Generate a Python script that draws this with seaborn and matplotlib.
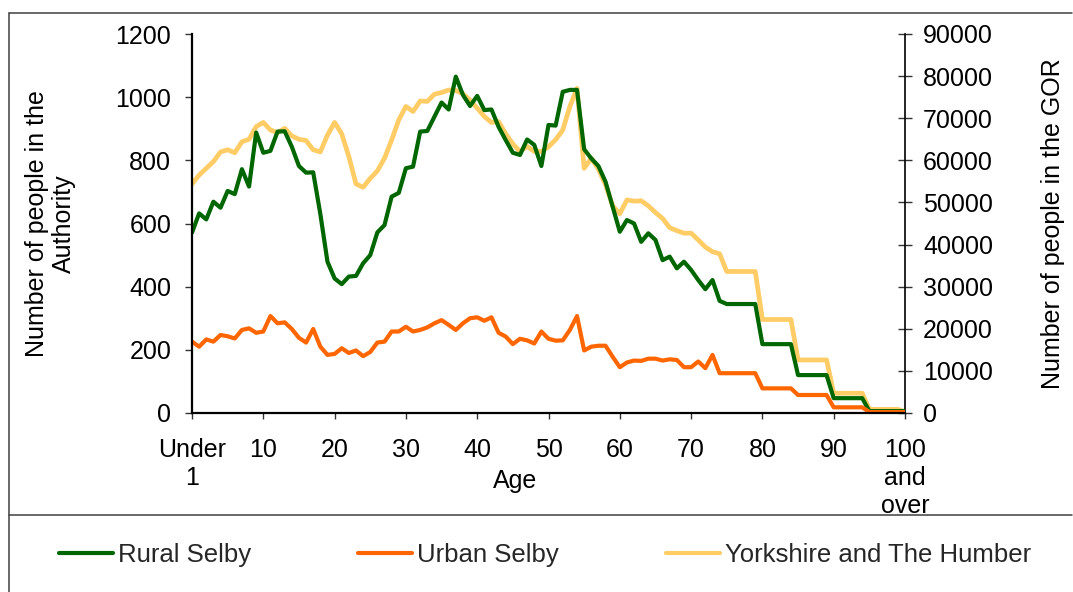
import matplotlib
matplotlib.use("Agg")
import matplotlib.pyplot as plt
from matplotlib.lines import Line2D
import seaborn as sns
import pandas as pd

# ---------------- data ----------------
ages = list(range(0, 101))

rural_selby = [571, 632, 613, 669, 650, 703, 693, 772, 717, 888,
               824, 830, 891, 892, 843, 782, 761, 762, 630, 479,
               426, 408, 432, 434, 474, 500, 572, 595, 685, 697,
               775, 780, 891, 893, 938, 983, 961, 1065, 1007, 972,
               1004, 959, 961, 906, 864, 824, 817, 866, 849, 782,
               912, 910, 1017, 1023, 1023, 835, 806, 782, 732, 653,
               574, 611, 600, 542, 569, 548, 484, 495, 458, 479,
               453, 421, 392, 421, 355, 345, 345, 345, 345, 345,
               218, 218, 218, 218, 218, 120, 120, 120, 120, 120,
               47, 47, 47, 47, 47, 6, 6, 6, 6, 6, 6]

urban_selby = [226, 210, 233, 226, 247, 243, 236, 263, 268, 254,
               258, 307, 284, 287, 266, 238, 223, 266, 210, 184,
               187, 205, 190, 198, 180, 193, 223, 226, 258, 258,
               273, 258, 263, 271, 284, 294, 279, 263, 284, 300,
               303, 292, 303, 254, 242, 218, 235, 230, 220, 258,
               235, 229, 230, 263, 307, 198, 210, 213, 213, 178,
               145, 160, 166, 165, 172, 172, 166, 170, 168, 145,
               145, 163, 142, 184, 126, 126, 126, 126, 126, 126,
               78, 78, 78, 78, 78, 57, 57, 57, 57, 57,
               18, 18, 18, 18, 18, 3, 3, 3, 3, 3, 3]

yorkshire_humber = [54400, 56500, 58100, 59700, 62000, 62500, 61800, 64400, 65000, 68000,
                    69000, 67200, 66600, 67600, 65800, 65000, 64700, 62500, 62000, 66000,
                    69000, 66300, 60900, 54400, 53600, 55700, 57500, 60500, 64800, 69600,
                    72800, 71600, 74100, 74000, 75700, 76100, 76700, 76600, 75800, 74300,
                    72400, 70400, 69000, 69200, 66300, 63900, 62100, 63300, 62100, 62100,
                    63200, 64900, 67200, 72800, 77100, 58100, 60500, 57900, 54200, 49200,
                    47300, 50600, 50300, 50400, 49200, 47600, 46200, 44000, 43300, 42700,
                    42700, 41100, 39400, 38300, 37800, 33600, 33600, 33600, 33600, 33600,
                    22200, 22200, 22200, 22200, 22200, 12600, 12600, 12600, 12600, 12600,
                    4700, 4700, 4700, 4700, 4700, 870, 870, 870, 870, 870, 300]

x_ticks = [0, 10, 20, 30, 40, 50, 60, 70, 80, 90, 100]
x_tick_labels = ["Under\n1", "10", "20", "30", "40", "50", "60", "70", "80", "90", "100\nand\nover"]
left_ticks = [0, 200, 400, 600, 800, 1000, 1200]
right_ticks = [0, 10000, 20000, 30000, 40000, 50000, 60000, 70000, 80000, 90000]

series_names = ["Rural Selby", "Urban Selby", "Yorkshire and The Humber"]
colors = ["#006600", "#FF6600", "#FFCC66"]

df = pd.DataFrame({"Age": ages, series_names[0]: rural_selby,
                   series_names[1]: urban_selby, series_names[2]: yorkshire_humber})

# ---------------- style ----------------
sns.set_theme(style="white")
plt.rcParams["font.family"] = ["Liberation Sans", "DejaVu Sans"]
FS = 18

W, H = 1073, 592
fig = plt.figure(figsize=(W / 100, H / 100), dpi=100)
fig.patch.set_facecolor("white")

left, right, top, bottom = 192, 905, 34, 413
ax = fig.add_axes([left / W, 1 - bottom / H, (right - left) / W, (bottom - top) / H])
ax2 = ax.twinx()

sns.lineplot(data=df, x="Age", y=series_names[0], ax=ax, color=colors[0], linewidth=3.0)
sns.lineplot(data=df, x="Age", y=series_names[1], ax=ax, color=colors[1], linewidth=3.0)
sns.lineplot(data=df, x="Age", y=series_names[2], ax=ax2, color=colors[2], linewidth=3.4)

ax.set_zorder(ax2.get_zorder() + 1)
ax.patch.set_visible(False)

ax.set_xlim(0, 100)
ax.set_ylim(0, 1200)
ax2.set_ylim(0, 90000)

ax.set_xticks(x_ticks)
ax.set_xticklabels(x_tick_labels, fontsize=FS)
ax.set_yticks(left_ticks)
ax.set_yticklabels([str(v) for v in left_ticks], fontsize=FS)
ax2.set_yticks(right_ticks)
ax2.set_yticklabels([str(v) for v in right_ticks], fontsize=FS)

for a in (ax, ax2):
    for s in a.spines.values():
        s.set_visible(False)
ax.spines["left"].set_visible(True)
ax.spines["bottom"].set_visible(True)
ax2.spines["right"].set_visible(True)
for s in (ax.spines["left"], ax.spines["bottom"]):
    s.set_color("black"); s.set_linewidth(1.6)
ax2.spines["right"].set_color("black"); ax2.spines["right"].set_linewidth(1.2)

ax.tick_params(axis="y", direction="out", length=5, width=1, color="#333333", pad=10, left=True, labelcolor="black")
ax.tick_params(axis="x", direction="out", length=4.5, width=1, color="#333333", pad=13.5, bottom=True, labelcolor="black")
ax2.tick_params(axis="y", direction="inout", length=10, width=1, color="#333333", pad=8, right=True, labelcolor="black")

ax.set_xlabel("Age", fontsize=FS, color="black")
ax.xaxis.set_label_coords((515 - left) / (right - left), (bottom - 469) / (bottom - top))
ax.set_ylabel("Number of people in the\nAuthority", fontsize=FS, color="black", linespacing=1.15)
ax.yaxis.set_label_coords((76 - left) / (right - left), 0.5)
ax2.set_ylabel("Number of people in the GOR", fontsize=FS, color="black")
ax2.yaxis.set_label_coords((1041 - left) / (right - left), 0.5)

ax.grid(False); ax2.grid(False)

# legend
handles = [Line2D([0], [0], color=c, linewidth=3.0) for c in colors]
fig.legend(handles, series_names, loc="center", bbox_to_anchor=(545 / W, 1 - 555 / H),
           ncol=3, frameon=False, fontsize=18.5, handlelength=2.1, handletextpad=0.2,
           columnspacing=4.15)

# outer frame lines
fc = "#404040"
fig.add_artist(Line2D([8.5 / W, 8.5 / W], [1 - 12.5 / H, 0], transform=fig.transFigure, color=fc, linewidth=1.1))
fig.add_artist(Line2D([8.5 / W, 1072 / W], [1 - 12.5 / H, 1 - 12.5 / H], transform=fig.transFigure, color=fc, linewidth=1.1))
fig.add_artist(Line2D([8.5 / W, 1072 / W], [1 - 515 / H, 1 - 515 / H], transform=fig.transFigure, color=fc, linewidth=1.1))

fig.savefig("out.png", dpi=100, facecolor="white")
